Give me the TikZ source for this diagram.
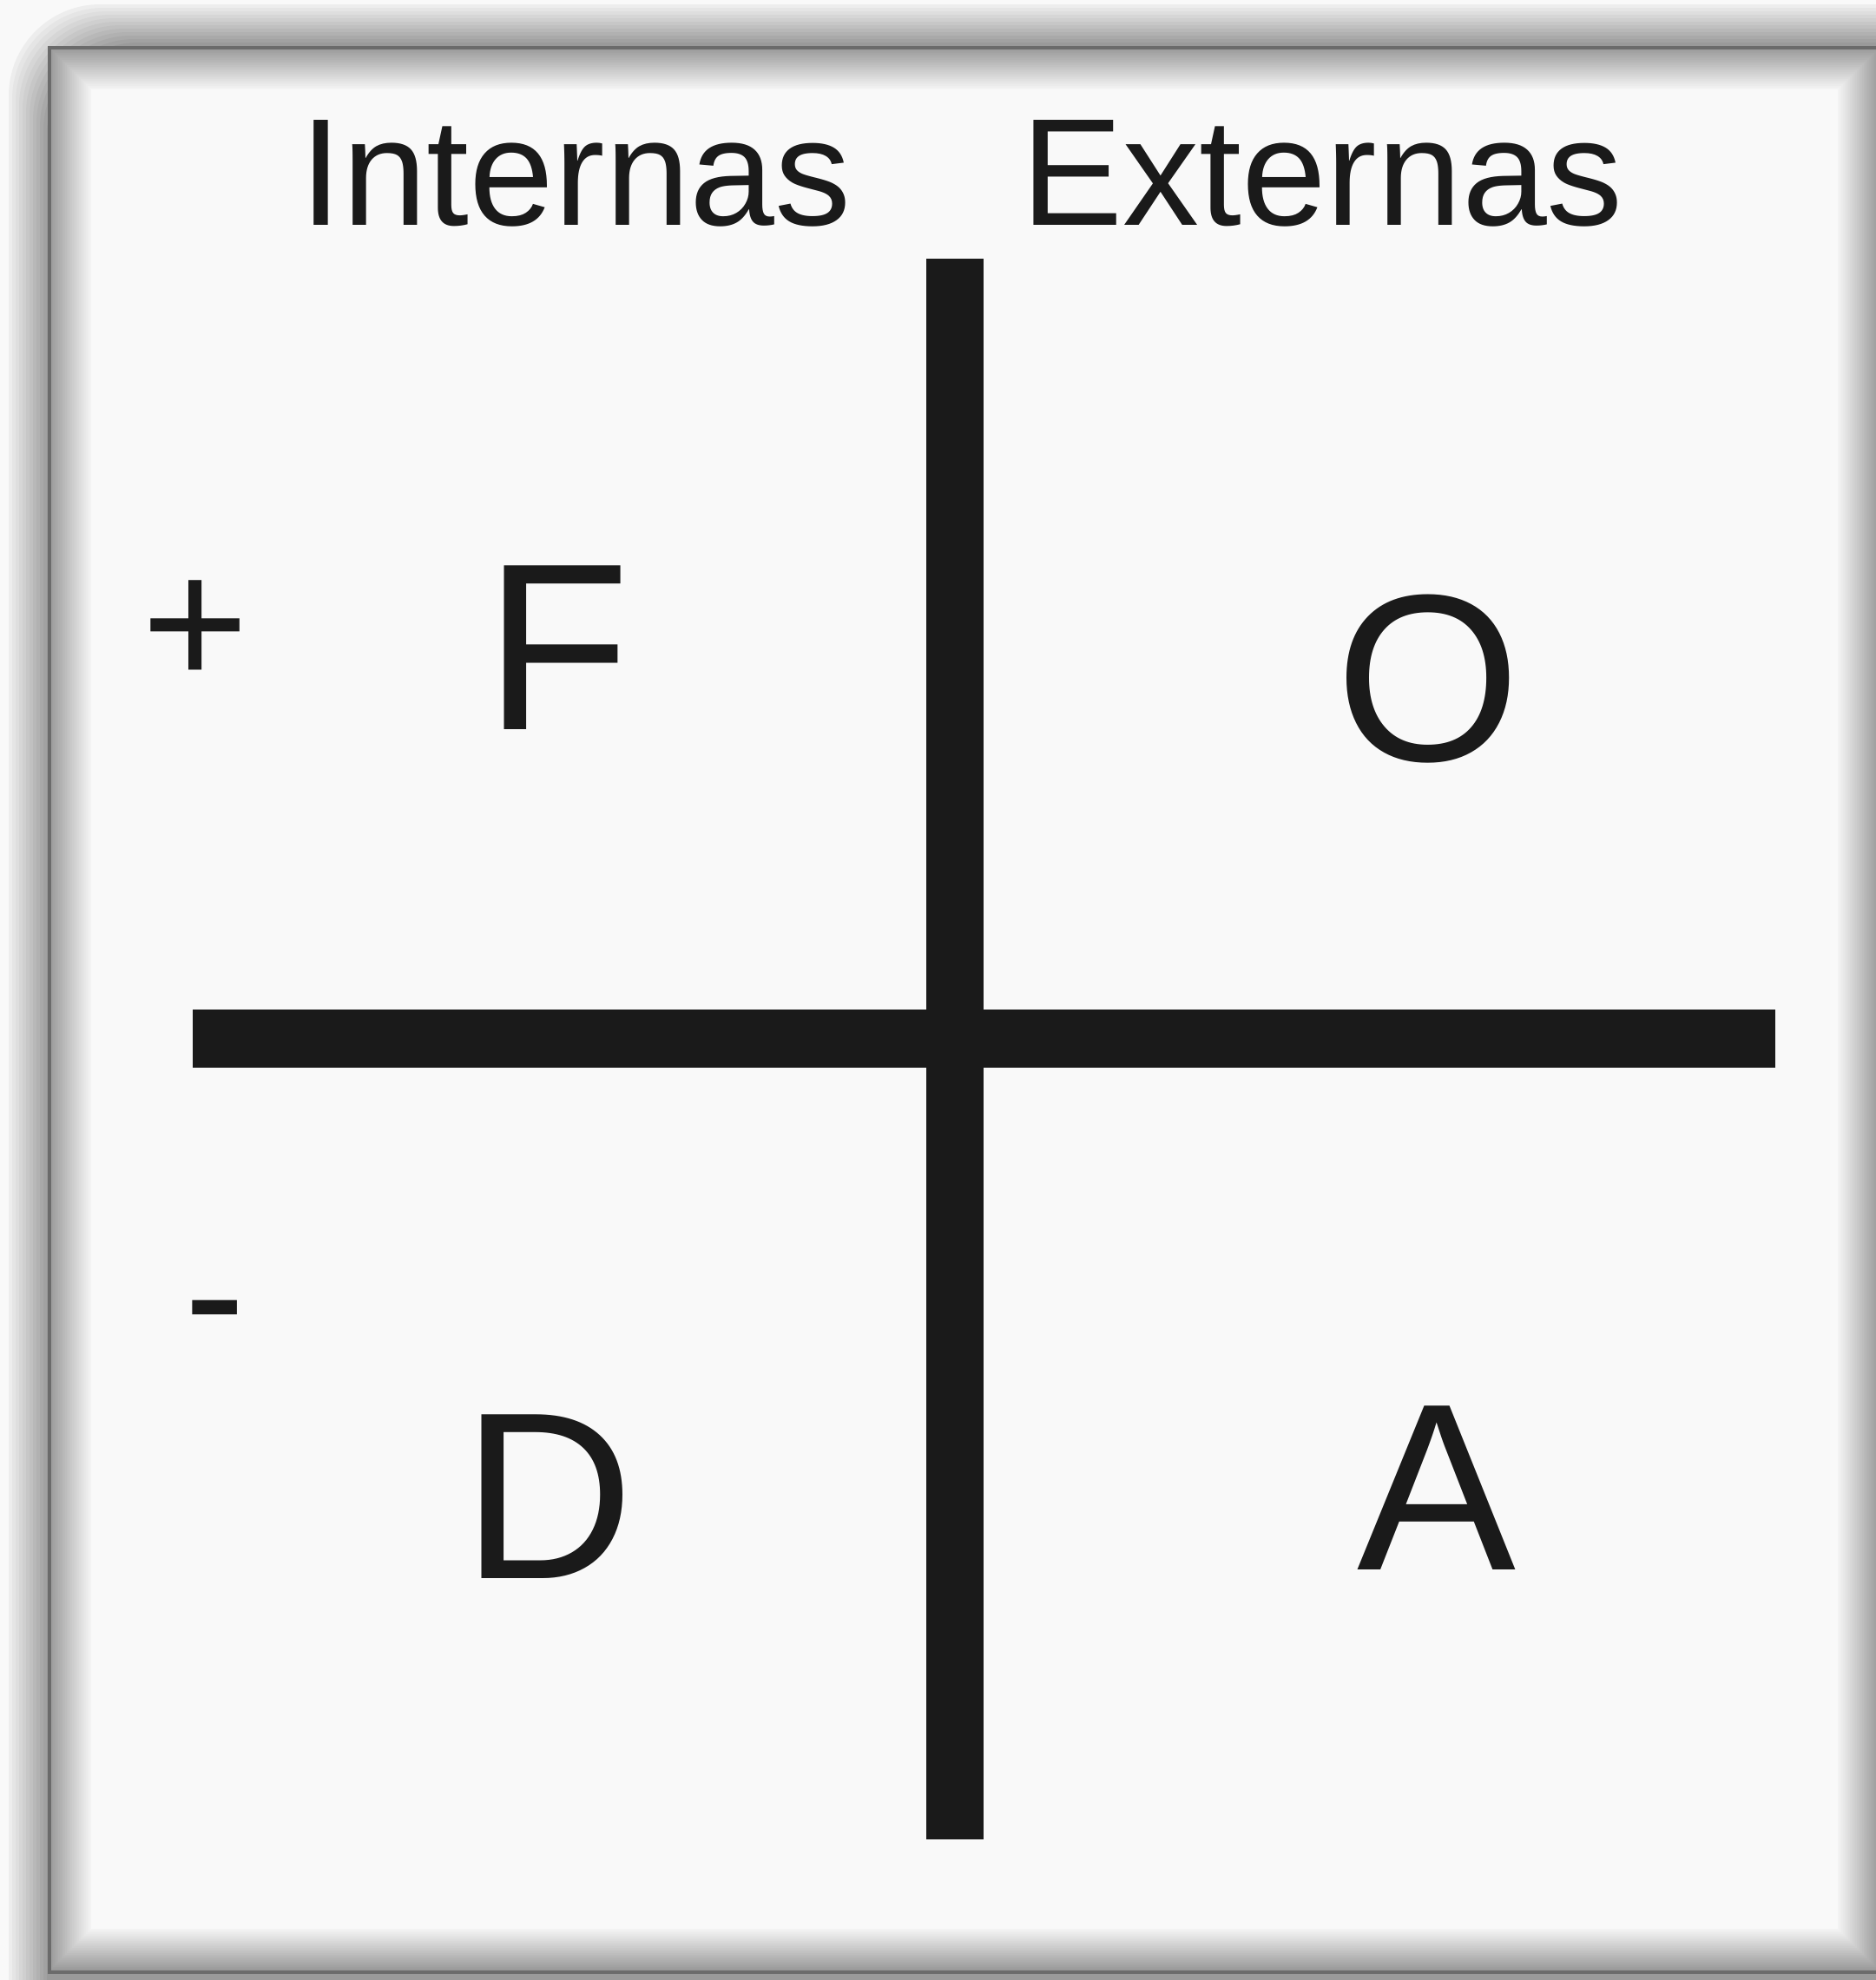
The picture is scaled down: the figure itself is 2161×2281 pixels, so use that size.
\documentclass[tikz,border=0pt]{standalone}
\usepackage{fontspec}
\setmainfont{Liberation Sans}
\definecolor{bgc}{HTML}{F9F9F9}
\definecolor{barc}{HTML}{1A1A1A}
\begin{document}
\begin{tikzpicture}[x=0.01cm,y=-0.01cm,
  title/.style={inner sep=0pt,anchor=base,font=\fontsize{50pt}{60pt}\selectfont,text=barc},
  letter/.style={inner sep=0pt,anchor=base,font=\fontsize{78pt}{90pt}\selectfont,text=barc},
  sign/.style={inner sep=0pt,anchor=center,font=\fontsize{60pt}{70pt}\selectfont,text=barc},
  bar/.style={fill=barc}]
\useasboundingbox (0,0) rectangle (2161,2281);
\fill[bgc] (0,0) rectangle (2161,2281);
% outer shadow
\foreach \i in {0,...,11}{
  \pgfmathsetmacro{\c}{5+\i*3}
  \fill[black!\c!bgc, rounded corners=30] (10+\i*4,5+\i*4) rectangle (2400,2500);
}
% frame bevel
\foreach \i in {0,...,23}{
  \pgfmathsetmacro{\c}{38-\i*1.55}
  \fill[black!\c!bgc] (57+\i*2,55+\i*2) rectangle (2165-\i*2,2270-\i*2);
}
\draw[black!58, line width=0.9pt] (57,55) rectangle (2165,2272);
\fill[bgc] (105,103) rectangle (2117,2222);
% bars
\fill[bar] (1067,298) rectangle (1133,2119);
\fill[bar] (222,1163) rectangle (2045,1230);
% texts
\node[title] (int) at (663,259) {Internas};
\node[title] (ext) at (1523,259) {Externas};
\node[letter] (f) at (642,840) {F};
\node[letter] (o) at (1645,876) {O};
\node[letter] (d) at (632,1818) {D};
\node[letter] (a) at (1655,1808) {A};
\node[sign] (plus) at (225,730) {+};
\node[sign] (minus) at (248,1530) {-};
\end{tikzpicture}
\end{document}
